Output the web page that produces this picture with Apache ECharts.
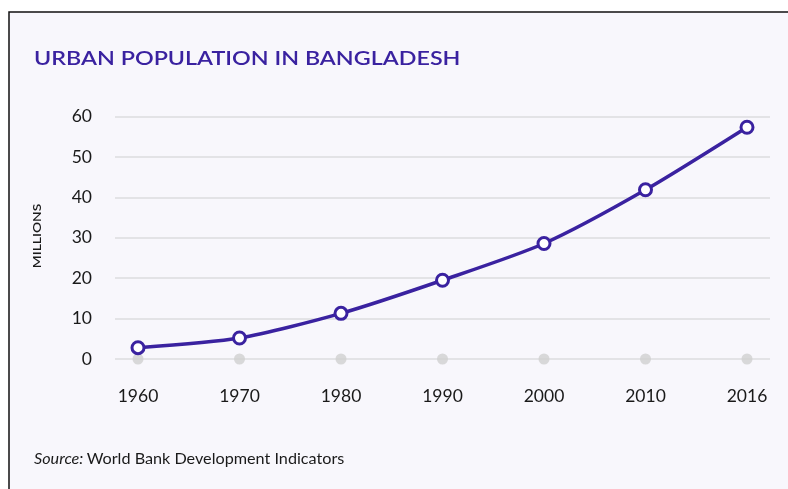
<!DOCTYPE html>
<html><head><meta charset="utf-8">
<script src="https://cdn.jsdelivr.net/npm/echarts@6/dist/echarts.min.js"></script>
<style>html,body{margin:0;padding:0;background:#fff}#c{width:788px;height:489px}</style>
</head><body><div id="c"></div>
<script>
const years = ['1960','1970','1980','1990','2000','2010','2016'];
const urbanPop = [2.8, 5.2, 11.3, 19.5, 28.6, 41.9, 57.4];
const baseline = [0, 0, 0, 0, 0, 0, 0];
const yTicks = {min: 0, max: 60, interval: 10};

const purple = '#3a22a0';
const chart = echarts.init(document.getElementById('c'));
const gridTop = 116.7, gridBottom = 130;
chart.setOption({
  animation: false,
  textStyle: {fontFamily: 'Lato'},
  graphic: [
    {type: 'rect', z: -10, shape: {x: 9, y: 12, width: 800, height: 500}, style: {fill: '#f8f7fc', stroke: '#111', lineWidth: 1.5}},
    {type: 'text', x: 34, y: 59, scaleX: 1.165, style: {text: 'URBAN POPULATION IN BANGLADESH', fill: purple, font: '600 20px Lato', verticalAlign: 'middle'}},
    {type: 'text', x: 37, y: 236, rotation: Math.PI/2, scaleX: 1.2, style: {text: 'MILLIONS', fill: '#1a1a1a', font: '600 11.5px Lato', align: 'center', verticalAlign: 'middle'}},
    {type: 'text', left: 34, top: 451, style: {rich: {i: {fontStyle: 'italic', fontSize: 16.2, fontFamily: 'Lato', fill: '#1a1a1a'}, n: {fontSize: 16.2, fontFamily: 'Lato', fill: '#1a1a1a'}}, text: '{i|Source:} {n|World Bank Development Indicators}'}}
  ],
  grid: [
    {left: 115, right: 18, top: gridTop, bottom: gridBottom},
    {left: 138, right: 41, top: gridTop, bottom: gridBottom}
  ],
  xAxis: [
    {gridIndex: 0, type: 'category', data: years, show: false},
    {gridIndex: 1, type: 'category', data: years, boundaryGap: false,
     axisLine: {show: false}, axisTick: {show: false},
     axisLabel: {color: '#1a1a1a', fontSize: 17.5, margin: 28, fontFamily: 'Lato'}}
  ],
  yAxis: [
    {gridIndex: 0, type: 'value', min: yTicks.min, max: yTicks.max, interval: yTicks.interval,
     axisLine: {show: false}, axisTick: {show: false},
     axisLabel: {color: '#1a1a1a', fontSize: 17.5, margin: 23, fontFamily: 'Lato'},
     splitLine: {lineStyle: {color: '#dcdcdf', width: 1.5}}},
    {gridIndex: 1, type: 'value', min: yTicks.min, max: yTicks.max, interval: yTicks.interval, show: false, splitLine: {show: false}}
  ],
  series: [
    {type: 'scatter', xAxisIndex: 1, yAxisIndex: 1, data: baseline, symbolSize: 11,
     itemStyle: {color: '#d0d0d0'}, z: 1},
    {type: 'line', xAxisIndex: 1, yAxisIndex: 1, data: urbanPop, smooth: 0.25,
     lineStyle: {color: purple, width: 3.5}, symbol: 'circle', symbolSize: 12,
     itemStyle: {color: '#fff', borderColor: purple, borderWidth: 3}, z: 3}
  ]
});
</script></body></html>
